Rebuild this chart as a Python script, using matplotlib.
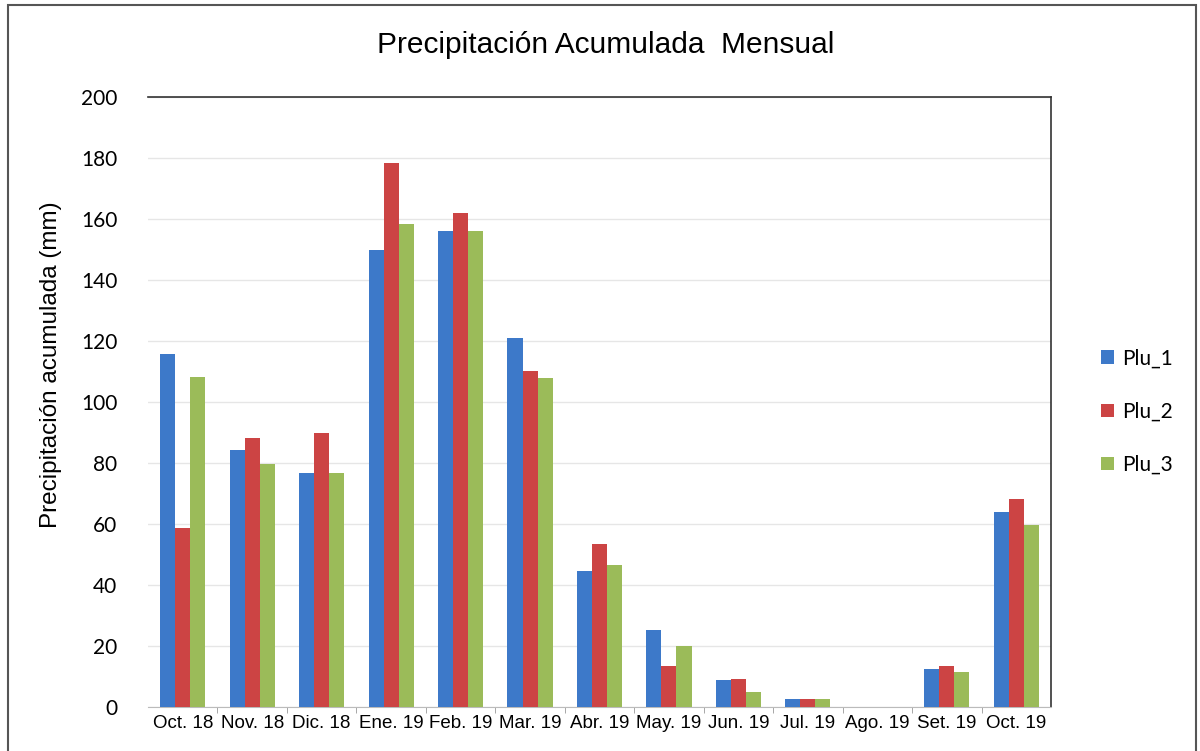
import matplotlib
matplotlib.use("Agg")
import matplotlib.pyplot as plt
import numpy as np
from matplotlib.patches import Rectangle

months = ["Oct. 18", "Nov. 18", "Dic. 18", "Ene. 19", "Feb. 19", "Mar. 19", "Abr. 19",
          "May. 19", "Jun. 19", "Jul. 19", "Ago. 19", "Set. 19", "Oct. 19"]
plu_1 = [115.6, 84.4, 76.8, 149.8, 156.2, 121.0, 44.6, 25.2, 8.7, 2.7, 0.0, 12.5, 64.0]
plu_2 = [58.7, 88.1, 89.9, 178.2, 162.1, 110.1, 53.6, 13.4, 9.1, 2.7, 0.0, 13.4, 68.3]
plu_3 = [108.2, 79.7, 76.8, 158.5, 156.2, 108.0, 46.6, 20.1, 4.8, 2.7, 0.0, 11.5, 59.7]
series_names = ["Plu_1", "Plu_2", "Plu_3"]
colors = ["#3d79c9", "#cc4444", "#9bbb59"]

fig = plt.figure(figsize=(12, 7.51), dpi=100)
ax = fig.add_axes([148 / 1200, 1 - 707 / 751, (1051 - 148) / 1200, (707 - 97) / 751])

# outer chart border
fig.patches.append(Rectangle((8 / 1200, -0.05), (1196 - 8) / 1200, 1.05 - 5 / 751,
                             transform=fig.transFigure, fill=False,
                             edgecolor="#555555", linewidth=1.5))

x = np.arange(len(months))
w = 0.217
for i, (vals, name, c) in enumerate(zip([plu_1, plu_2, plu_3], series_names, colors)):
    ax.bar(x - w + i * w, vals, width=w, color=c, label=name, zorder=3)

ax.set_xlim(-0.5, len(months) - 0.5)
ax.set_ylim(0, 200)
ax.set_yticks(np.arange(0, 201, 20))
ax.yaxis.grid(True, color="#e6e6e6", linewidth=1, zorder=0)
ax.set_xticks(x)
ax.set_xticklabels(months, fontsize=13.5, family="Liberation Sans")
ax.tick_params(axis="x", length=0, pad=6)
ax.tick_params(axis="y", length=0, labelsize=15, pad=22)
for lab in ax.get_yticklabels():
    lab.set_family("Lato")
ax.set_xticks(np.arange(0.5, len(months) - 0.5, 1), minor=True)
ax.tick_params(axis="x", which="minor", length=4, color="#999999")

ax.spines["left"].set_visible(False)
ax.spines["bottom"].set_color("#bbbbbb")
ax.spines["top"].set_color("#333333")
ax.spines["right"].set_color("#333333")
ax.spines["top"].set_linewidth(1.2)
ax.spines["right"].set_linewidth(1.2)

ax.set_ylabel("Precipitación acumulada (mm)", fontsize=17.5, family="Liberation Sans", labelpad=6)
ax.yaxis.set_label_coords(-0.0955, 0.561)
fig.text(0.505, 1 - 45 / 751, "Precipitación Acumulada  Mensual", ha="center", va="center",
         fontsize=21.5, family="Liberation Sans")

ax.legend(loc="center left", bbox_to_anchor=(1.035, 0.484), frameon=False,
          handlelength=0.6, handleheight=0.6, labelspacing=1.6,
          handletextpad=0.4, prop={"family": "Lato", "size": 15})

fig.savefig("out.png", dpi=100, facecolor="white")
